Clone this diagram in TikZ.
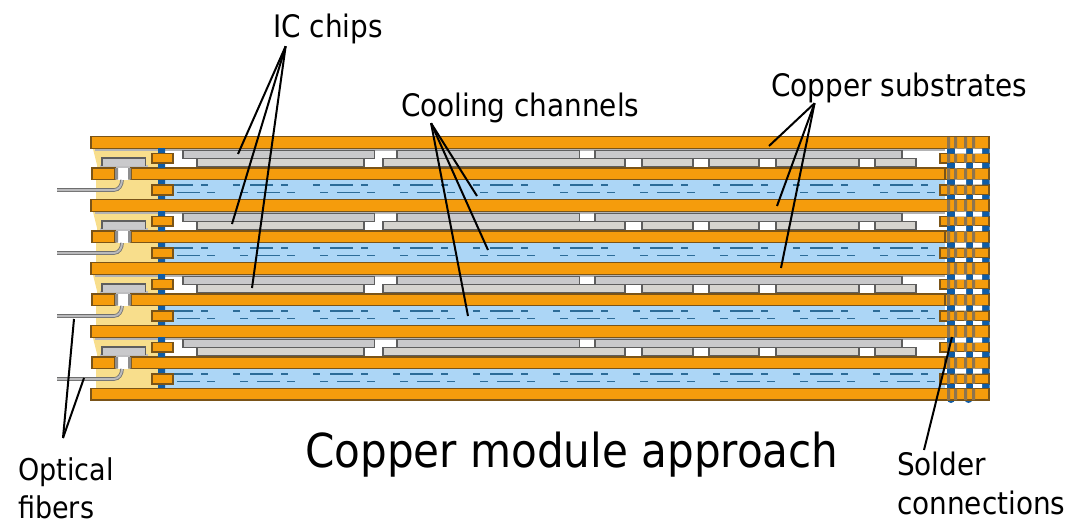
\documentclass[tikz,border=0pt]{standalone}
\usepackage{fontspec}
\setmainfont{DejaVu Sans Condensed}
\usetikzlibrary{calc}
\definecolor{copper}{HTML}{F59C0C}
\definecolor{copperedge}{HTML}{7A5418}
\definecolor{coolant}{HTML}{ACD6F6}
\definecolor{yellowfill}{HTML}{F8DE8C}
\definecolor{pillar}{HTML}{0F5CA6}
\definecolor{chipa}{HTML}{C9C9CB}
\definecolor{chipb}{HTML}{D6D4CF}
\definecolor{chipedge}{HTML}{5E5E5E}
\definecolor{dashcol}{HTML}{2C6C98}
\definecolor{stud}{HTML}{8C7450}
\tikzset{
  layer/.style={fill=copper,draw=copperedge,line width=1.2},
  chipup/.style={fill=chipa,draw=chipedge,line width=1.3},
  chiplow/.style={fill=chipb,draw=chipedge,line width=1.3},
  fluid/.style={dashcol,line width=1.5},
  leader/.style={black,line width=2},
  lab/.style={inner sep=0,font=\fontsize{31}{31}\selectfont,anchor=west},
}
\begin{document}
\begin{tikzpicture}[x=1pt,y=-1pt]
\useasboundingbox (0,0) rectangle (1080,527);
\foreach \k in {0,1,2,3}{
\begin{scope}[yshift=-63*\k]
  % yellow optical carrier
  \fill[yellowfill] (93,149) -- (158,149) -- (158,200) -- (96,200) -- (96,180) -- (97,168) -- (97,165) -- (95,157) -- cycle;
  % coolant
  \fill[coolant] (165,180) rectangle (945,200);
  \draw[fluid,dash pattern=on 7 off 10 on 23 off 8 on 7 off 25] (153,185) -- (945,185);
  \draw[fluid,dash pattern=on 8 off 9 on 23 off 7 on 8 off 25] (160,192.5) -- (945,192.5);
  % grey under-layer
  \fill[chipa!70!gray] (95,148) rectangle (945,150.5);
  % chips
  \draw[chipup] (183,150.5) rectangle (374.5,158.5);
  \draw[chipup] (397,150.5) rectangle (579.5,158.5);
  \draw[chipup] (595,150.5) rectangle (902,158.5);
  \draw[chiplow] (197,158.5) rectangle (364,167);
  \draw[chiplow] (383,158.5) rectangle (625,167);
  \draw[chiplow] (642,158.5) rectangle (693,167);
  \draw[chiplow] (709,158.5) rectangle (759,167);
  \draw[chiplow] (776,158.5) rectangle (859,167);
  \draw[chiplow] (875,158.5) rectangle (916,167);
  % small chip in carrier
  \fill[chipa!85!gray] (100,165) rectangle (148,168.5);
  \draw[fill=chipa,draw=chipedge,line width=1.3] (102,165.5) -- (102,158) -- (145.5,158) -- (145.5,165.5);
  % copper layers
  \draw[layer] (91,136.5) rectangle (989,148.5);
  \draw[layer] (92,168) rectangle (115,179.5);
  \draw[layer] (131,168) rectangle (945,179.5);
  % via
  \fill[white] (117,168) rectangle (129,179.5);
  \fill[chipedge!70!white] (115,168) rectangle (118,179.5) (128,168) rectangle (131,179.5);
  % fibre
  \draw[chipedge!90!white,line width=3.6] (57,190) -- (114,190) to[out=0,in=270] (122,180);
  \draw[chipa!80!gray,line width=2] (57,190) -- (114,190) to[out=0,in=270] (122,180);
  % pillar and pads on the left
  \fill[pillar] (158,148) rectangle (165,168) (158,180) rectangle (165,200);
  \draw[layer] (152,153.5) rectangle (173,163);
  \draw[layer] (152,185) rectangle (173,195);
  % right-hand connector block
  \draw[layer] (940,153.5) rectangle (989,163);
  \draw[layer] (940,185) rectangle (989,195);
  \draw[layer] (945,168) rectangle (989,179.5);
  \fill[stud] (947,137) rectangle (950,200) (954,137) rectangle (957,200) (964,137) rectangle (967,200) (972,137) rectangle (975,200);
  \foreach \y in {148.5,163,179.5,195}{
    \fill[pillar] (947,\y) rectangle (955,\y+5) (966,\y) rectangle (973,\y+5) (982,\y) rectangle (989.5,\y+5);
    \fill[white] (955,\y) rectangle (966,\y+5) (973,\y) rectangle (982,\y+5);
  }
\end{scope}
}
% last copper layer
\fill[pillar] (947,399) -- (955,399) arc[start angle=0,end angle=180,radius=4] -- cycle;
\fill[pillar] (964.5,399) -- (972.5,399) arc[start angle=0,end angle=180,radius=4] -- cycle;
\draw[layer] (91,388.5) rectangle (989,400);
\fill[stud] (947,388.5) rectangle (950,400) (954,388.5) rectangle (957,400) (964,388.5) rectangle (967,400) (972,388.5) rectangle (975,400);
% labels
\node[lab] (ic) at (273,29) {IC chips};
\node[lab] (cool) at (401,108) {Cooling channels};
\node[lab] (sub) at (771,88) {Copper substrates};
\node[lab,align=left,anchor=north west,font=\fontsize{30}{38}\selectfont] (fib) at (18,458) {Optical\\fibers};
\node[lab,align=left,anchor=north west,font=\fontsize{31}{39}\selectfont] (sol) at (897,452) {Solder\\connections};
\node[inner sep=0,font=\fontsize{46.8}{46.8}\selectfont,anchor=west] (title) at (305,455) {Copper module approach};
% leader hubs
\coordinate (ichub) at ($(ic.south west)!0.115!(ic.south east)+(0,2)$);
\coordinate (coolhub) at ($(cool.south west)!0.126!(cool.south east)$);
\coordinate (subhub) at ($(sub.south west)!0.17!(sub.south east)$);
\coordinate (fibhub) at ($(fib.north west)!0.47!(fib.north east)+(0,-20)$);
\coordinate (solhub) at ($(sol.north west)+(27,-2)$);
\coordinate (e1) at (238,154); \coordinate (e2) at (232,224); \coordinate (e3) at (252,288);
\coordinate (e4) at (477,196); \coordinate (e5) at (488,250); \coordinate (e6) at (468,316);
\coordinate (e7) at (769,146); \coordinate (e8) at (777,206); \coordinate (e9) at (781,268);
\coordinate (e10) at (74,319); \coordinate (e11) at (84,378);
\coordinate (e12) at (952,337);
\foreach \e in {e1,e2,e3}{\draw[leader] (ichub) -- (\e);}
\foreach \e in {e4,e5,e6}{\draw[leader] (coolhub) -- (\e);}
\foreach \e in {e7,e8,e9}{\draw[leader] (subhub) -- (\e);}
\foreach \e in {e10,e11}{\draw[leader] (fibhub) -- (\e);}
\draw[leader] (solhub) -- (e12);
\end{tikzpicture}
\end{document}
